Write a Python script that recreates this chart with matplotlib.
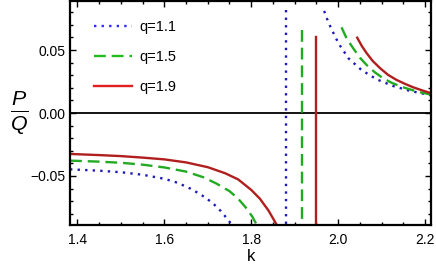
import numpy as np
import matplotlib.pyplot as plt
from matplotlib.ticker import MultipleLocator

plt.rcParams['font.family'] = ['Liberation Sans', 'DejaVu Sans']
plt.rcParams['mathtext.fontset'] = 'custom'
plt.rcParams['mathtext.it'] = 'Liberation Sans:italic'
plt.rcParams['mathtext.rm'] = 'Liberation Sans'

# values
labels = ['q=1.1', 'q=1.5', 'q=1.9']
colors = ['#1c1cb4', '#22aa22', '#b01e1e']
legend_colors = ['#2a2aff', '#22bb22', '#e02020']
styles = [(0, (1, 2.2)), (0, (5, 2.5)), '-']

# left branches (k, P/Q)
k_left_11 = [1.383, 1.45, 1.50, 1.55, 1.60, 1.63, 1.66, 1.683, 1.70, 1.715, 1.73, 1.745, 1.756]
y_left_11 = [-0.0447, -0.0458, -0.0470, -0.0490, -0.0522, -0.0553, -0.0600, -0.0645, -0.0685, -0.0727, -0.0778, -0.0840, -0.0889]
k_left_15 = [1.383, 1.45, 1.50, 1.55, 1.60, 1.65, 1.69, 1.72, 1.75, 1.77, 1.79, 1.803, 1.813]
y_left_15 = [-0.0378, -0.0386, -0.0395, -0.0410, -0.0432, -0.0465, -0.0510, -0.0560, -0.0620, -0.0680, -0.0760, -0.0825, -0.0889]
k_left_19 = [1.383, 1.45, 1.50, 1.55, 1.60, 1.65, 1.70, 1.74, 1.77, 1.80, 1.82, 1.84, 1.859]
y_left_19 = [-0.0325, -0.0334, -0.0342, -0.0354, -0.0368, -0.0392, -0.0430, -0.0478, -0.0527, -0.0610, -0.0680, -0.0775, -0.0889]

# right branches
k_right_11 = [1.968, 1.976, 1.984, 2.001, 2.024, 2.054, 2.089, 2.127, 2.166, 2.215]
y_right_11 = [0.081, 0.0735, 0.0672, 0.0553, 0.0434, 0.0341, 0.0267, 0.0214, 0.0175, 0.0140]
k_right_15 = [2.008, 2.020, 2.035, 2.050, 2.066, 2.085, 2.104, 2.125, 2.150, 2.180, 2.215]
y_right_15 = [0.068, 0.0590, 0.0513, 0.0440, 0.0380, 0.0322, 0.0275, 0.0237, 0.0204, 0.0172, 0.0145]
k_right_19 = [2.044, 2.055, 2.066, 2.080, 2.097, 2.115, 2.135, 2.155, 2.173, 2.195, 2.215]
y_right_19 = [0.0598, 0.0530, 0.0474, 0.0412, 0.0355, 0.0303, 0.0262, 0.0230, 0.0204, 0.0178, 0.0156]

# vertical jumps at the poles
k_pole = [1.880, 1.917, 1.950]
y_pole_top = [0.082, 0.066, 0.060]
y_pole_bottom = -0.0889

lefts = [(k_left_11, y_left_11), (k_left_15, y_left_15), (k_left_19, y_left_19)]
rights = [(k_right_11, y_right_11), (k_right_15, y_right_15), (k_right_19, y_right_19)]

fig = plt.figure(figsize=(4.36, 2.73), dpi=100)
ax = fig.add_axes([0.1606, 0.1758, 0.829, 0.8205])

ax.axhline(0, color='black', lw=1.3, zorder=1)

handles = []
for i in range(3):
    kl, yl = lefts[i]
    kr, yr = rights[i]
    ln, = ax.plot(kl, yl, color=colors[i], ls=styles[i], lw=1.7, label=labels[i])
    ax.plot(kr, yr, color=colors[i], ls=styles[i], lw=1.7)
    ax.plot([k_pole[i], k_pole[i]], [y_pole_top[i], y_pole_bottom], color=colors[i], ls=styles[i], lw=1.7)
    handles.append(ln)

leg = ax.legend(handles=handles, loc='upper left', bbox_to_anchor=(0.03, 0.975), frameon=False,
                fontsize=10.5, handlelength=2.6, labelspacing=1.1, handletextpad=0.5)
for h, c in zip(leg.legend_handles, legend_colors):
    h.set_color(c)

ax.set_xlim(1.383, 2.215)
ax.set_ylim(-0.0889, 0.0889)
ax.set_xticks([1.4, 1.6, 1.8, 2.0, 2.2])
ax.set_xticklabels(['1.4', '1.6', '1.8', '2.0', '2.2'])
ax.set_yticks([-0.05, 0.0, 0.05])
ax.set_yticklabels(['\u22120.05', '0.00', '0.05'])
ax.xaxis.set_minor_locator(MultipleLocator(0.05))
ax.yaxis.set_minor_locator(MultipleLocator(0.01))
ax.tick_params(which='both', direction='in', top=True, right=True, labelsize=10, width=1.0)
ax.tick_params(which='major', length=4)
ax.tick_params(which='minor', length=2)
ax.tick_params(axis='x', pad=6)
for s in ax.spines.values():
    s.set_linewidth(1.6)

ax.set_xlabel('k', fontsize=12, labelpad=1)
ax.set_ylabel(r'$\frac{P}{Q}$', fontsize=22, rotation=0, labelpad=8, va='center')

fig.savefig('out.png', dpi=100)
